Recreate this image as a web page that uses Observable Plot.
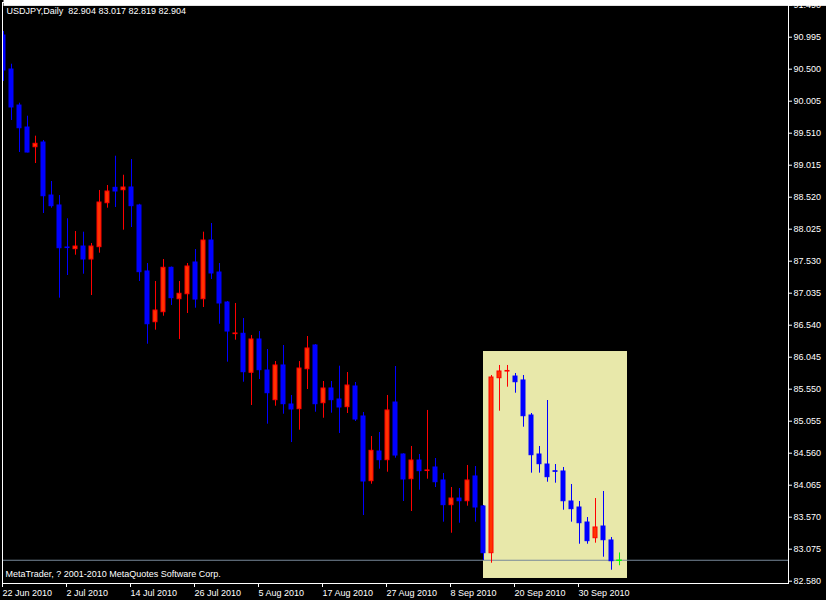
<!DOCTYPE html>
<html>
<head>
<meta charset="utf-8">
<script src="https://cdn.jsdelivr.net/npm/d3@7"></script>
<script src="https://cdn.jsdelivr.net/npm/@observablehq/plot@0.6"></script>
<style>
  html, body { margin: 0; padding: 0; background: #000; }
  #chart { width: 826px; height: 600px; }
</style>
</head>
<body>
<div id="chart"></div>
<script>
// ---- data ----
const symbol = "USDJPY";
const period = "Daily";
const open = [91.021,90.495,89.938,89.598,89.293,89.366,88.546,88.392,87.742,87.716,
  87.757,87.556,87.747,88.427,88.665,88.628,88.670,88.392,87.371,86.586,
  86.741,87.428,86.942,87.019,87.510,86.942,87.850,87.355,86.891,86.402,
  86.407,85.804,86.319,85.839,85.380,85.917,85.313,85.241,85.859,86.226,
  85.333,85.561,85.391,85.272,85.592,85.128,84.127,84.586,84.452,85.344,
  84.540,84.158,84.447,84.284,84.339,84.138,83.756,83.859,83.817,84.200,
  83.736,83.013,85.720,85.823,85.746,85.685,85.143,84.540,84.385,84.281,
  84.277,83.813,83.720,83.488,83.245,83.426,83.210,82.904];
const high = [91.083,90.577,89.974,89.773,89.464,89.397,88.763,88.546,88.186,87.989,
  87.979,87.804,88.624,88.701,89.154,88.860,89.103,88.410,87.494,87.216,
  87.556,87.440,87.216,87.494,87.711,87.979,88.113,87.494,86.907,86.876,
  86.644,86.381,86.442,86.164,85.978,86.226,85.453,85.978,86.365,86.240,
  85.669,85.669,85.906,85.808,85.654,85.190,84.818,84.880,85.453,85.901,
  84.550,84.664,84.540,85.221,84.478,84.246,84.029,84.014,84.370,84.354,
  83.751,85.762,85.917,85.917,85.793,85.762,85.174,84.664,85.375,84.385,
  84.339,84.076,83.813,83.565,83.859,83.968,83.256,83.017];
const low = [90.310,89.706,89.211,89.205,89.041,88.268,88.350,86.958,87.309,87.623,
  87.329,86.999,87.654,88.350,88.361,88.010,88.051,87.216,86.246,86.463,
  86.679,86.845,86.319,86.721,86.803,86.814,87.247,86.555,85.968,86.308,
  85.658,85.298,85.700,85.009,85.287,85.163,84.725,84.916,85.545,85.194,
  85.101,85.179,84.865,85.174,85.050,83.596,84.080,84.313,84.266,84.483,
  83.813,83.658,83.988,84.158,84.029,83.493,83.322,83.477,83.740,83.493,
  82.900,82.858,85.210,85.581,85.488,84.962,84.251,84.251,84.111,84.096,
  83.678,83.493,83.152,83.152,83.168,82.951,82.750,82.819];
const close = [90.480,89.908,89.587,89.211,89.346,88.535,88.381,87.731,87.733,87.757,
  87.556,87.757,88.438,88.608,88.608,88.670,88.381,87.360,86.555,86.767,
  87.428,86.958,87.026,87.448,86.937,87.850,87.340,86.876,86.442,86.412,
  85.813,86.319,85.844,85.488,85.917,85.318,85.236,85.870,86.180,85.318,
  85.561,85.380,85.267,85.607,85.081,84.122,84.597,84.452,85.221,84.524,
  84.153,84.447,84.282,84.293,84.111,83.756,83.859,83.817,84.138,83.720,
  83.013,85.731,85.824,85.832,85.658,85.132,84.529,84.390,84.189,84.272,
  83.817,83.694,83.477,83.199,83.411,83.214,82.889,82.904];

const xTickPos = [0, 8, 16, 24, 32, 40, 48, 56, 64, 72];
const xTickLabels = ["22 Jun 2010","2 Jul 2010","14 Jul 2010","26 Jul 2010","5 Aug 2010",
  "17 Aug 2010","27 Aug 2010","8 Sep 2010","20 Sep 2010","30 Sep 2010"];
const yTicks = [91.490,90.995,90.500,90.005,89.510,89.015,88.520,88.025,87.530,87.035,
  86.540,86.045,85.550,85.055,84.560,84.065,83.570,83.075,82.580];

// highlighted area (bar index range and price range)
const highlightStart = 60, highlightEnd = 78;
const highlightTop = 86.133, highlightBottom = 82.622;

const copyright = "MetaTrader, ? 2001-2010 MetaQuotes Software Corp.";

// ---- table ----
const bars = open.map((o, i) => ({i, o, h: high[i], l: low[i], c: close[i]}));
const last = bars[bars.length - 1];
const upColor = "#FF0000", upFill = "#FF3300", downColor = "#0000FF", dojiColor = "#00FF00";
const col = d => d.c > d.o ? upColor : d.c < d.o ? downColor : dojiColor;
const fmt = v => v.toFixed(3);
const title = `${symbol},${period}\u00a0\u00a0${fmt(last.o)} ${fmt(last.h)} ${fmt(last.l)} ${fmt(last.c)}`;

const chart = Plot.plot({
  width: 826,
  height: 600,
  marginLeft: 2,
  marginRight: 38,
  marginTop: 2,
  marginBottom: 17,
  style: {background: "#000", color: "#fff", fontFamily: "'Liberation Sans', Arial, sans-serif", fontSize: "9px"},
  x: {type: "linear", domain: [0, 77], range: [3, 619], axis: null},
  y: {type: "linear", domain: [82.58, 91.49], range: [580.7, 4.7], axis: null},
  marks: [
    Plot.rect([{a: highlightStart, b: highlightEnd, t: highlightTop, btm: highlightBottom}],
      {x1: "a", x2: "b", y1: "btm", y2: "t", fill: "#E8E8AA", clip: true}),
    Plot.ruleY([last.c], {stroke: "#778899", strokeWidth: 1}),
    Plot.ruleX(bars, {x: "i", y1: "l", y2: "h", stroke: col, strokeWidth: 1, clip: true}),
    Plot.rect(bars.filter(d => d.o !== d.c), {
      x1: d => d.i - 0.25, x2: d => d.i + 0.25,
      y1: "o", y2: "c",
      fill: d => d.c > d.o ? upFill : downColor,
      stroke: col, strokeWidth: 1, clip: true
    }),
    Plot.ruleY(bars.filter(d => d.o === d.c), {
      y: "c", x1: d => d.i - 0.35, x2: d => d.i + 0.35, stroke: col, strokeWidth: 1.5, clip: true
    }),
    Plot.frame({stroke: "#fff"}),
    Plot.axisY(yTicks, {anchor: "right", tickSize: 3, tickPadding: 2, tickFormat: fmt, label: null, stroke: "#fff", fill: "#fff"}),
    Plot.axisX(xTickPos, {anchor: "bottom", tickSize: 4, tickPadding: 2, label: null,
      tickFormat: d => xTickLabels[xTickPos.indexOf(d)], textAnchor: "start", dx: -1, stroke: "#fff", fill: "#fff"}),
    Plot.text([title], {frameAnchor: "top-left", lineAnchor: "top", dx: 4, dy: 5.5, fill: "#fff", fontSize: 9}),
    Plot.text([copyright], {frameAnchor: "bottom-left", lineAnchor: "top", dx: 3, dy: -12.5, fill: "#fff", fontSize: 9}),
    Plot.text([last.c], {y: d => d, text: d => fmt(d), frameAnchor: "right", textAnchor: "start", dx: 5,
      fill: "#000", fontSize: 9, className: "pricetag"})
  ]
});
document.getElementById("chart").appendChild(chart);

// white box behind the current price tag
const tag = chart.querySelector("g.pricetag text") || chart.querySelector(".pricetag text");
if (tag) {
  const bb = tag.getBBox();
  const r = document.createElementNS("http://www.w3.org/2000/svg", "rect");
  r.setAttribute("x", bb.x - 2);
  r.setAttribute("y", bb.y - 0.5);
  r.setAttribute("width", 826 - (bb.x - 2));
  r.setAttribute("height", bb.height + 1);
  r.setAttribute("fill", "#fff");
  tag.parentNode.insertBefore(r, tag);
}
</script>
</body>
</html>
